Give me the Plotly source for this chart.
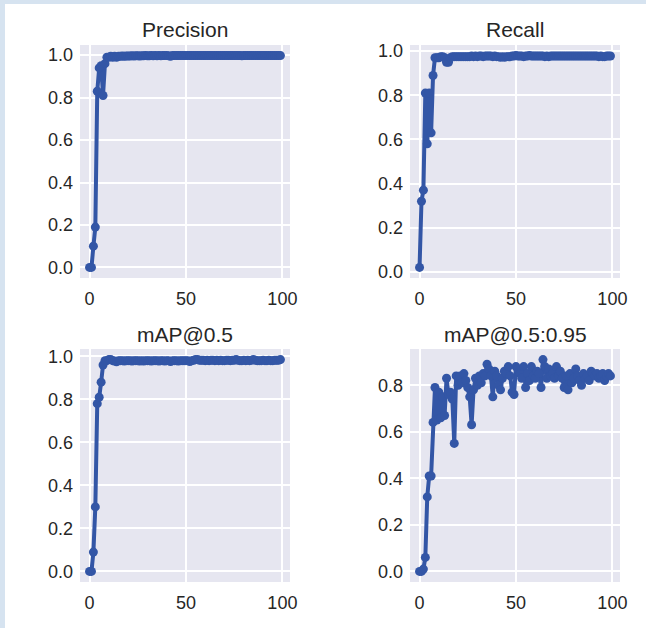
import plotly.graph_objects as go

W, H = 646, 628

epochs = list(range(100))

precision = [0.0, 0.0, 0.10, 0.19, 0.83, 0.94, 0.95, 0.81, 0.96, 0.99,
             0.99, 0.995, 0.99, 0.995, 0.99, 0.995, 0.995, 0.996, 0.995, 0.996,
             0.996, 0.996, 0.997, 0.996, 0.997, 0.997, 0.996, 0.997, 0.997, 0.998,
             0.997, 0.997, 0.998, 0.997, 0.998, 0.997, 0.998, 0.997, 0.998, 0.998,
             0.998, 0.997, 0.995, 0.998, 0.998, 0.998, 0.998, 0.998, 0.998, 0.998,
             0.998, 0.998, 0.998, 0.998, 0.998, 0.998, 0.998, 0.998, 0.998, 0.998,
             0.998, 0.998, 0.998, 0.998, 0.998, 0.998, 0.998, 0.998, 0.998, 0.998,
             0.998, 0.998, 0.998, 0.998, 0.998, 0.998, 0.998, 0.998, 0.998, 0.997,
             0.998, 0.998, 0.998, 0.998, 0.998, 0.998, 0.998, 0.998, 0.998, 0.998,
             0.998, 0.998, 0.998, 0.998, 0.998, 0.998, 0.998, 0.998, 0.998, 0.998]

recall = [0.02, 0.32, 0.37, 0.81, 0.58, 0.81, 0.63, 0.89, 0.97, 0.97,
          0.97, 0.975, 0.975, 0.97, 0.95, 0.95, 0.97, 0.975, 0.975, 0.975,
          0.975, 0.975, 0.975, 0.975, 0.975, 0.975, 0.975, 0.978, 0.975, 0.978,
          0.975, 0.978, 0.978, 0.975, 0.978, 0.978, 0.978, 0.978, 0.975, 0.978,
          0.975, 0.975, 0.972, 0.975, 0.972, 0.975, 0.975, 0.975, 0.978, 0.978,
          0.98, 0.978, 0.978, 0.978, 0.975, 0.978, 0.978, 0.98, 0.978, 0.978,
          0.978, 0.978, 0.978, 0.978, 0.978, 0.975, 0.978, 0.975, 0.978, 0.978,
          0.978, 0.978, 0.978, 0.978, 0.978, 0.978, 0.978, 0.978, 0.978, 0.978,
          0.978, 0.978, 0.978, 0.978, 0.978, 0.978, 0.978, 0.978, 0.978, 0.978,
          0.978, 0.978, 0.978, 0.975, 0.978, 0.975, 0.975, 0.978, 0.978, 0.978]

map50 = [0.0, 0.0, 0.09, 0.30, 0.78, 0.81, 0.88, 0.96, 0.98, 0.98,
         0.985, 0.985, 0.98, 0.978, 0.975, 0.98, 0.98, 0.98, 0.978, 0.98,
         0.98, 0.98, 0.978, 0.98, 0.98, 0.98, 0.978, 0.98, 0.978, 0.98,
         0.98, 0.98, 0.978, 0.98, 0.98, 0.98, 0.978, 0.98, 0.98, 0.978,
         0.98, 0.98, 0.976, 0.98, 0.98, 0.98, 0.978, 0.98, 0.98, 0.98,
         0.98, 0.98, 0.976, 0.98, 0.982, 0.985, 0.985, 0.982, 0.982, 0.982,
         0.98, 0.982, 0.98, 0.982, 0.982, 0.98, 0.982, 0.98, 0.982, 0.98,
         0.98, 0.982, 0.982, 0.98, 0.982, 0.982, 0.985, 0.982, 0.98, 0.98,
         0.982, 0.98, 0.982, 0.98, 0.982, 0.985, 0.982, 0.98, 0.98, 0.98,
         0.982, 0.98, 0.98, 0.982, 0.98, 0.98, 0.982, 0.982, 0.982, 0.985]

map50_95 = [0.0, 0.0, 0.01, 0.06, 0.32, 0.41, 0.41, 0.64, 0.79, 0.65,
            0.77, 0.66, 0.75, 0.67, 0.83, 0.76, 0.77, 0.74, 0.55, 0.84,
            0.80, 0.84, 0.81, 0.85, 0.82, 0.79, 0.75, 0.63, 0.78, 0.83,
            0.80, 0.84, 0.81, 0.85, 0.84, 0.89, 0.87, 0.84, 0.75, 0.86,
            0.84, 0.80, 0.78, 0.83, 0.86, 0.85, 0.88, 0.84, 0.77, 0.76,
            0.88, 0.87, 0.85, 0.83, 0.88, 0.79, 0.85, 0.82, 0.88, 0.84,
            0.83, 0.86, 0.85, 0.79, 0.91, 0.88, 0.83, 0.87, 0.84, 0.85,
            0.83, 0.88, 0.84, 0.86, 0.83, 0.79, 0.84, 0.78, 0.85, 0.81,
            0.83, 0.87, 0.84, 0.82, 0.80, 0.85, 0.83, 0.84, 0.82, 0.86,
            0.85, 0.84, 0.85, 0.83, 0.84, 0.85, 0.82, 0.84, 0.85, 0.84]

titles = ["Precision", "Recall", "mAP@0.5", "mAP@0.5:0.95"]
series = [precision, recall, map50, map50_95]
x_ticks = [0, 50, 100]
y_ticks_full = [0.0, 0.2, 0.4, 0.6, 0.8, 1.0]
y_ticks_short = [0.0, 0.2, 0.4, 0.6, 0.8]
y_ticks = [y_ticks_full, y_ticks_full, y_ticks_full, y_ticks_short]

LINE = "#3356A6"
BG = "#E6E6F0"
TXT = "#262626"
BORDER = "#D6E3F0"
FONT = "Liberation Sans, Arial, sans-serif"

# panel pixel boxes: (left, right, top, bottom)
boxes = [(80, 290, 45, 278), (410, 620, 45, 278),
         (80, 290, 349, 582), (410, 620, 349, 582)]

fig = go.Figure()
annotations = []
for i, (name, vals, box, yt) in enumerate(zip(titles, series, boxes, y_ticks)):
    n = "" if i == 0 else str(i + 1)
    fig.add_trace(go.Scatter(
        x=epochs, y=vals, mode="lines+markers",
        line=dict(color=LINE, width=4),
        marker=dict(color=LINE, size=9),
        xaxis="x" + n, yaxis="y" + n, showlegend=False, hoverinfo="x+y"))
    l, r, t, b = box
    lo, hi = min(vals), max(vals)
    pad = 0.05 * (hi - lo)
    common = dict(showgrid=True, gridcolor="white", gridwidth=1.5, zeroline=False,
                  showline=False, ticks="", automargin=False,
                  tickfont=dict(family=FONT, size=18, color=TXT))
    fig.layout["xaxis" + n] = dict(
        domain=[l / W, r / W], anchor="y" + n, range=[-4.95, 103.95],
        tickvals=x_ticks, ticklabelstandoff=8, **common)
    fig.layout["yaxis" + n] = dict(
        domain=[1 - b / H, 1 - t / H], anchor="x" + n, range=[lo - pad, hi + pad],
        tickvals=yt, tickformat=".1f", ticklabelstandoff=6, **common)
    annotations.append(dict(
        text=name, x=(l + r) / 2 / W, y=1 - (t - 15) / H, xref="paper", yref="paper",
        showarrow=False, xanchor="center", yanchor="middle",
        font=dict(family=FONT, size=21, color=TXT)))

fig.update_layout(
    width=W, height=H, margin=dict(l=0, r=0, t=0, b=0),
    paper_bgcolor="white", plot_bgcolor=BG,
    annotations=annotations,
    shapes=[dict(type="rect", xref="paper", yref="paper", x0=0, x1=1,
                 y0=1 - 4 / H, y1=1, fillcolor=BORDER, line=dict(width=0)),
            dict(type="rect", xref="paper", yref="paper", x0=0, x1=5 / W,
                 y0=0, y1=1, fillcolor=BORDER, line=dict(width=0))])

fig.write_html("out.html",
               config={"displayModeBar": False},
               post_script="document.body.style.margin='0';"
                           "document.body.style.overflow='hidden';")
